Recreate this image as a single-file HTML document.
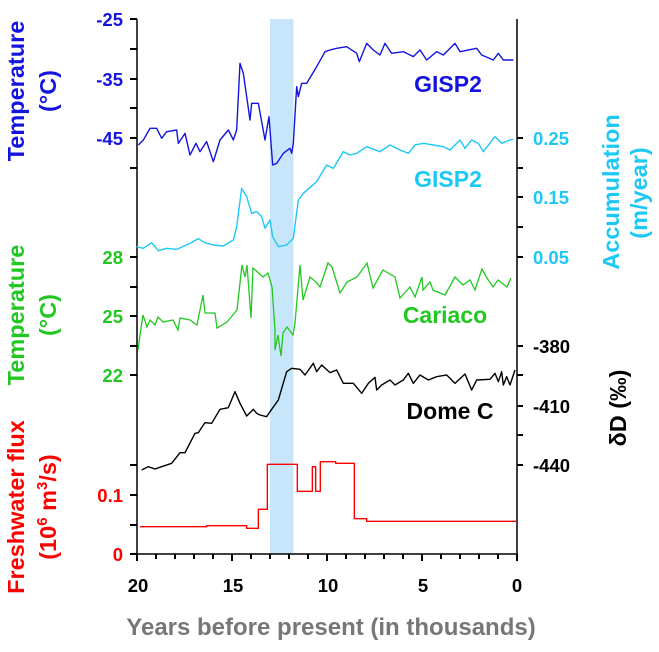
<!DOCTYPE html>
<html><head><meta charset="utf-8"><style>
html,body{margin:0;padding:0;background:#fff;}
svg text{font-family:"Liberation Sans",Arial,sans-serif;font-weight:bold;}
</style></head><body>
<svg width="659" height="647" viewBox="0 0 659 647" xmlns="http://www.w3.org/2000/svg">
<rect x="270" y="19" width="23.5" height="535" fill="#c8e6fa"/>
<g fill="none" stroke="#000" stroke-width="1.5">
<line x1="137" y1="19" x2="137" y2="554"/>
<line x1="517" y1="19" x2="517" y2="554"/>
<line x1="137" y1="554" x2="517" y2="554"/>
</g>
<g stroke="#000" stroke-width="2">
<path d="M130 19h7M130 49h7M130 79h7M130 108h7M130 138h7M130 168h7M130 257h7M130 287h7M130 316h7M130 346h7M130 375h7M130 465h7M130 495h7M130 525h7M130 554h7"/>
<path d="M517 138h6M517 168h6M517 197h6M517 227h6M517 257h6M517 346h6M517 375h6M517 406h6M517 435h6M517 465h6"/>
<path d="M137 554v7M156 554v5M175 554v5M194 554v5M213 554v5M232 554v7M251 554v5M270 554v5M289 554v5M308 554v5M327 554v7M346 554v5M365 554v5M384 554v5M403 554v5M422 554v7M441 554v5M460 554v5M479 554v5M498 554v5M517 554v7"/>
</g>
<g transform="translate(90,0) scale(0.33333)" fill="none" stroke-width="1.4" stroke-linejoin="round">
<polyline vector-effect="non-scaling-stroke" stroke="#1414e0" points="145,435 160,420 180,385 200,385 215,415 230,395 260,390 265,430 285,400 300,465 318,430 330,455 350,425 370,485 390,420 415,390 430,420 440,390 450,190 460,220 480,360 485,310 505,310 525,420 537,350 548,495 560,490 580,460 600,445 605,460 610,430 620,260 625,290 635,250 650,250 680,200 705,155 720,150 740,145 770,140 800,160 808,185 830,130 850,150 870,165 885,130 905,160 940,155 970,170 990,150 1010,180 1040,155 1060,165 1095,130 1110,155 1160,145 1175,165 1210,180 1225,160 1240,180 1270,180"/>
<polyline vector-effect="non-scaling-stroke" stroke="#1ec8f5" points="140,740 160,745 185,728 205,752 230,745 260,748 300,730 325,716 345,728 370,735 400,738 410,732 430,720 440,680 455,565 470,590 485,640 500,635 515,650 525,685 540,660 548,710 565,740 590,735 610,715 625,600 640,580 680,545 710,495 730,505 760,455 780,465 800,460 830,440 870,455 900,435 930,450 955,460 975,435 1000,430 1030,435 1060,440 1080,450 1110,420 1125,445 1145,420 1165,430 1180,455 1215,410 1235,430 1260,420 1270,418"/>
<polyline vector-effect="non-scaling-stroke" stroke="#000" transform="translate(0,960)" points="155,450 175,440 195,447 215,440 245,430 270,398 285,398 315,340 325,338 345,308 365,310 390,268 415,263 435,215 450,250 470,288 490,268 500,280 510,285 530,290 545,268 565,240 590,155 605,145 630,148 645,165 670,130 680,155 695,135 720,158 740,150 760,190 790,190 815,220 835,190 855,172 860,210 875,195 900,180 915,195 940,180 955,160 970,190 990,165 1015,180 1040,170 1070,165 1095,190 1125,162 1145,210 1160,180 1200,178 1215,160 1225,185 1235,155 1240,195 1250,170 1260,195 1275,150"/>
<polyline vector-effect="non-scaling-stroke" stroke="#f00" transform="translate(0,960)" points="150,620 350,620 350,617 470,617 470,625 505,625 505,568 532,568 532,433 622,433 622,514 667,514 667,440 677,440 677,514 691,514 691,425 737,425 737,430 793,430 793,596 830,596 830,604 1278,604"/>
</g>
<polyline fill="none" stroke="#22c822" stroke-width="1.3" points="138,350 140,335 143,315 147,327 150,320 155,325 158,317 163,322 173,320 178,330 180,318 190,320 197,325 203,295 205,313 215,313 217,328 227,322 237,310 242,265 245,277 247,265 251,318 253,268 263,277 268,273 272,287 275,330 275,350 278,335 281,356 283,333 287,327 293,335 295,323 300,265 303,300 310,277 317,283 320,287 328,263 332,267 340,293 347,282 357,277 367,263 373,288 383,270 395,277 400,298 410,287 415,297 422,277 423,290 430,282 433,290 445,295 455,277 463,285 470,280 475,290 482,269 487,278 493,287 498,280 507,287 511,278"/>
<g font-size="18.5" text-anchor="end">
<text x="123" y="26" fill="#1414e0">-25</text>
<text x="123" y="86" fill="#1414e0">-35</text>
<text x="123" y="145" fill="#1414e0">-45</text>
<text x="123" y="264" fill="#22c822">28</text>
<text x="123" y="323" fill="#22c822">25</text>
<text x="123" y="382" fill="#22c822">22</text>
<text x="123" y="502" fill="#f00">0.1</text>
<text x="123" y="561" fill="#f00">0</text>
</g>
<g font-size="18.5" text-anchor="start">
<text x="533" y="145" fill="#1ec8f5">0.25</text>
<text x="533" y="204" fill="#1ec8f5">0.15</text>
<text x="533" y="264" fill="#1ec8f5">0.05</text>
<text x="533" y="353" fill="#000">-380</text>
<text x="533" y="413" fill="#000">-410</text>
<text x="533" y="472" fill="#000">-440</text>
</g>
<g font-size="18.5" text-anchor="middle">
<text x="138" y="592">20</text>
<text x="233" y="592">15</text>
<text x="328" y="592">10</text>
<text x="423" y="592">5</text>
<text x="517" y="592">0</text>
</g>
<text x="331" y="635" font-size="24" text-anchor="middle" fill="#777">Years before present (in thousands)</text>
<g font-size="23" text-anchor="middle">
<text x="448" y="92" fill="#1414e0">GISP2</text>
<text x="448" y="187" fill="#1ec8f5">GISP2</text>
<text x="445" y="323" fill="#22c822">Cariaco</text>
<text x="450" y="419" fill="#000">Dome C</text>
</g>
<g font-size="23.5" text-anchor="middle">
<text transform="translate(24,91) rotate(-90)" fill="#1414e0">Temperature</text>
<text transform="translate(56,91) rotate(-90)" fill="#1414e0">(°C)</text>
<text transform="translate(24,315) rotate(-90)" fill="#22c822">Temperature</text>
<text transform="translate(56,315) rotate(-90)" fill="#22c822">(°C)</text>
<text transform="translate(24,507) rotate(-90)" fill="#f00">Freshwater flux</text>
<text transform="translate(56,507) rotate(-90)" fill="#f00">(10<tspan font-size="15" dy="-9">6</tspan><tspan dy="9"> m</tspan><tspan font-size="15" dy="-9">3</tspan><tspan dy="9">/s)</tspan></text>
<text transform="translate(619,192) rotate(-90)" fill="#1ec8f5">Accumulation</text>
<text transform="translate(647,193) rotate(-90)" fill="#1ec8f5">(m/year)</text>
<text transform="translate(626,408) rotate(-90)" fill="#000">δD (‰)</text>
</g>
</svg>
</body></html>
